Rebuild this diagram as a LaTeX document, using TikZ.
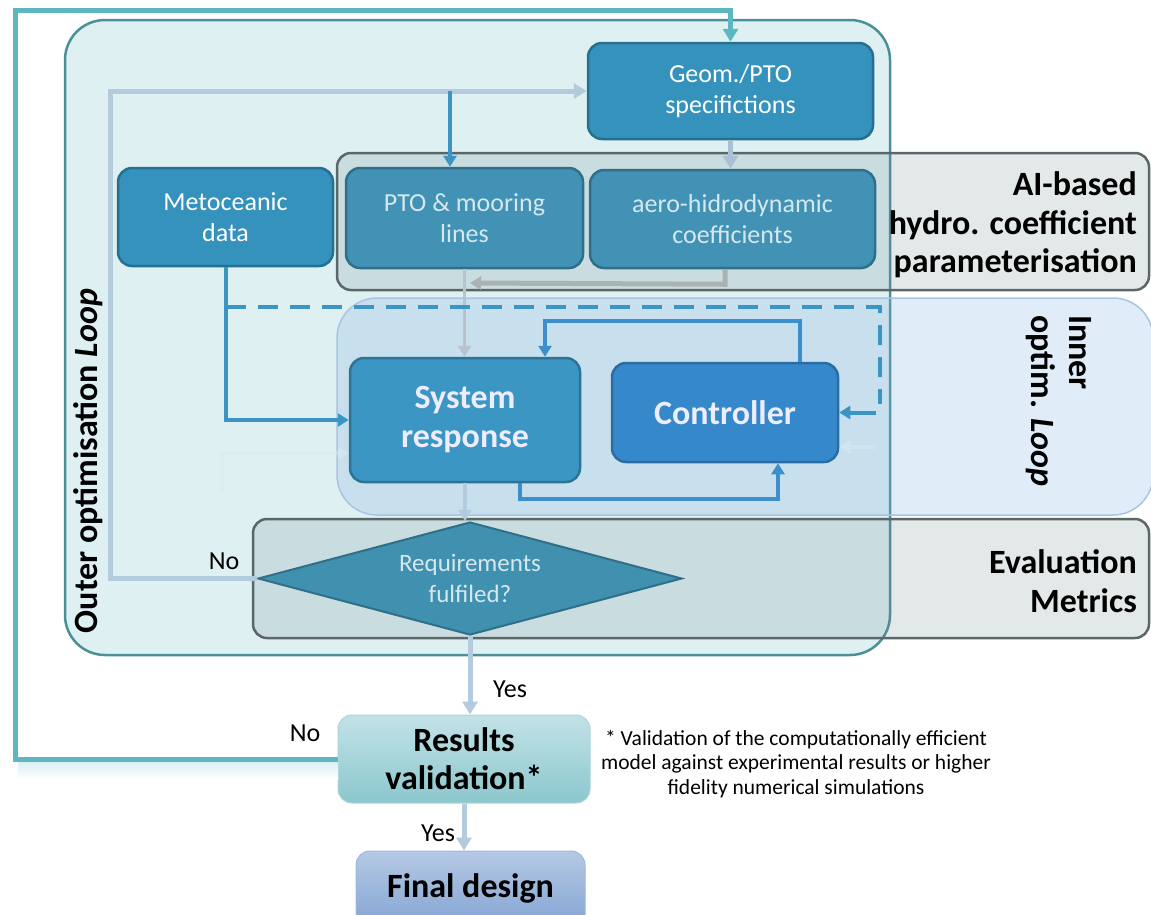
\documentclass[tikz,border=0pt]{standalone}
\usepackage{fontspec}
\setmainfont{Carlito}
\usetikzlibrary{arrows.meta,shapes.geometric}

\definecolor{outerfill}{HTML}{DFF0F3}
\definecolor{outeredge}{HTML}{4A9096}
\definecolor{grpgray}{HTML}{6B868B}
\definecolor{grpedge}{HTML}{5A6667}
\definecolor{grpblue}{HTML}{84B4E0}
\definecolor{grpblueedge}{HTML}{A9C4E2}
\definecolor{boxblue}{HTML}{3592BC}
\definecolor{boxblueedge}{HTML}{256F8F}
\definecolor{mutedfill}{HTML}{4192B4}
\definecolor{mutededge}{HTML}{2F6F8A}
\definecolor{mutedtext}{HTML}{D6E8EF}
\definecolor{sysfill}{HTML}{3C96C3}
\definecolor{sysedge}{HTML}{2D7396}
\definecolor{ctrlfill}{HTML}{3589CB}
\definecolor{ctrledge}{HTML}{2B6DA3}
\definecolor{diafill}{HTML}{4090B0}
\definecolor{diaedge}{HTML}{2F6F88}
\definecolor{tealline}{HTML}{5DB7C1}
\definecolor{paleline}{HTML}{B3CCDD}
\definecolor{blueline}{HTML}{3A94C4}
\definecolor{ctrlline}{HTML}{3B8FCC}
\definecolor{grayline}{HTML}{AAB2B4}
\definecolor{ghostline}{HTML}{D6EBF0}
\definecolor{geomline}{HTML}{A9C0D2}
\definecolor{ptoline}{HTML}{B8C4CC}
\definecolor{valtop}{HTML}{C2E2E7}
\definecolor{valbot}{HTML}{8BC7CD}
\definecolor{valedge}{HTML}{A9D6DB}
\definecolor{fintop}{HTML}{B5C9E4}
\definecolor{finbot}{HTML}{7B9ED0}
\definecolor{finedge}{HTML}{9FB7DB}
\definecolor{glow}{HTML}{D8EEF2}

\begin{document}
\begin{tikzpicture}[x=1pt,y=-1pt,
  grp/.style={rectangle, draw=grpedge, fill=grpgray, fill opacity=0.19, line width=2.5pt, rounded corners=14pt, inner sep=0pt},
  blockbox/.style={rectangle, rounded corners=14pt, line width=2.5pt, align=center, inner sep=2pt,
    font=\fontsize{26}{31}\selectfont},
  bigbox/.style={blockbox, font=\fontsize{34}{39}\selectfont\bfseries},
  grplabel/.style={font=\fontsize{34}{38.5}\selectfont\bfseries, text=black, inner sep=0pt},
  yesno/.style={font=\fontsize{26}{28}\selectfont, text=black, inner sep=0pt},
  tip/.style={-{Triangle[length=13pt,width=15pt]}},
  smalltip/.style={-{Triangle[length=11pt,width=13pt]}},
  teal/.style={draw=tealline, line width=5pt},
  pale/.style={draw=paleline, line width=5pt},
  blue/.style={draw=blueline, line width=4pt},
  ctrl/.style={draw=ctrlline, line width=4pt},
  gray/.style={draw=grayline, line width=5pt},
  ghost/.style={draw=ghostline, line width=4pt, opacity=0.5}]

\useasboundingbox (0,0) rectangle (1151,914);
\clip (0,0) rectangle (1151,914);

% containers
\node[rectangle, draw=outeredge, fill=outerfill, line width=2.5pt, rounded corners=40pt,
  minimum width=825pt, minimum height=635pt, inner sep=0pt] (outer) at (477.5,337.5) {};
\node[grp, minimum width=812pt, minimum height=137pt] (aigrp) at (743,221.5) {};
\node[rectangle, draw=grpblueedge, fill=grpblue, fill opacity=0.25, line width=1.5pt, rounded corners=40pt,
  minimum width=816pt, minimum height=217pt, inner sep=0pt] (innergrp) at (745,406.5) {};
\node[grp, minimum width=896pt, minimum height=119pt] (evalgrp) at (701,578.5) {};

% container labels
\node[grplabel, anchor=east, align=right] (ailabel) at (1137,225) {AI-based\\hydro. coefficient\\parameterisation};
\node[grplabel, anchor=east, align=right] (evallabel) at (1137,581) {Evaluation\\Metrics};
\node[grplabel, rotate=-90, align=left] (innerlabel) at (1059,401) {Inner\\optim. \textit{Loop}};
\node[grplabel, rotate=90] (outerlabel) at (88,461) {Outer optimisation \textit{Loop}};

% blocks
\node[blockbox, fill=boxblue, draw=boxblueedge, text=white, minimum width=285pt, minimum height=96pt]
  (geom) at (730.5,91) {Geom./PTO\\specifictions};
\node[blockbox, fill=boxblue, draw=boxblueedge, text=white, minimum width=215pt, minimum height=98pt]
  (met) at (225.5,217) {Metoceanic\\data};
\node[blockbox, fill=mutedfill, draw=mutededge, text=mutedtext, minimum width=237pt, minimum height=100pt]
  (pto) at (464.5,218) {PTO \& mooring\\lines};
\node[blockbox, fill=mutedfill, draw=mutededge, text=mutedtext, minimum width=285pt, minimum height=98pt]
  (aero) at (732.5,219) {aero-hidrodynamic\\coefficients};
\node[bigbox, fill=sysfill, draw=sysedge, text=white!93!blue, minimum width=230pt, minimum height=124pt]
  (sys) at (465,420) {System\\response};
\node[bigbox, fill=ctrlfill, draw=ctrledge, text=white!93!blue, minimum width=226pt, minimum height=99pt]
  (ctrl) at (725,412.5) {Controller};
\node[diamond, aspect=3.75, fill=diafill, draw=diaedge, line width=2pt, inner sep=0pt,
  minimum width=424pt, minimum height=113pt, text=mutedtext, align=center,
  font=\fontsize{25}{31}\selectfont] (dia) at (470,578.5) {Requirements\\fulfiled?};
\node[bigbox, top color=valtop, bottom color=valbot, draw=valedge, line width=1pt,
  text=black, minimum width=252pt, minimum height=88pt, font=\fontsize{34}{38}\selectfont\bfseries]
  (resval) at (464,759) {Results\\validation*};
\node[bigbox, top color=fintop, bottom color=finbot, draw=finedge, line width=1pt,
  text=black, minimum width=229pt, minimum height=88pt, font=\fontsize{34}{38}\selectfont\bfseries]
  (final) at (470.5,895) {\raisebox{19pt}{Final design}};

% footnote
\node[align=center, font=\fontsize{21.5}{24.5}\selectfont, text=black] (note) at (796,764)
  {* Validation of the computationally efficient\\model against experimental results or higher\\fidelity numerical simulations};

% outer feedback from validation
\shade[top color=glow, bottom color=white] (18,761) rectangle (338,779);
\draw[teal, tip] (resval.west) -| (15,10) -| (geom.north);

% outer optimisation return path
\draw[pale, tip] (dia.west) -| (110,91) -- (geom.west);
\coordinate (tap) at (450,91);
\draw[blue, line width=3.5pt, smalltip] (tap) -- (tap |- pto.north);
\draw[draw=geomline, line width=5pt, tip] (geom.south) -- (geom.south |- aero.north);
\draw[gray, smalltip] ([xshift=-7.5pt]aero.south) -- ++(0,15) -- (470,283);
\draw[draw=ptoline, line width=3.5pt, smalltip] (pto.south) -- (pto.south |- sys.north);

% metocean inputs
\draw[blue, smalltip] (met.south) |- (sys.west);
\draw[blue, dash pattern=on 20pt off 12pt] (met.south |- 0,307) -| (880,404);
\draw[blue, smalltip] (876,412.5) -- (ctrl.east);

% faint traces
\draw[ghost, smalltip] (222,492) |- (sys.west |- 0,453);
\draw[ghost, smalltip] (876,447) -- (ctrl.east |- 0,447);

% inner control loop
\draw[ctrl, smalltip] ([xshift=75pt]ctrl.north) -- ++(0,-41) -| ([xshift=80pt]sys.north);
\draw[ctrl, smalltip] ([xshift=55pt]sys.south) -- ++(0,16) -| ([xshift=53pt]ctrl.south);

% evaluation outcome
\draw[pale, line width=4pt, smalltip] (sys.south) -- (sys.south |- dia.north);
\draw[pale, tip] (dia.south) -- (dia.south |- resval.north);
\draw[pale, tip] (resval.south) -- (resval.south |- final.north);

\node[yesno] (no1) at (224,561) {No};
\node[yesno] (no2) at (305,733) {No};
\node[yesno] (yes1) at (510,689) {Yes};
\node[yesno] (yes2) at (438,833) {Yes};
\end{tikzpicture}
\end{document}
